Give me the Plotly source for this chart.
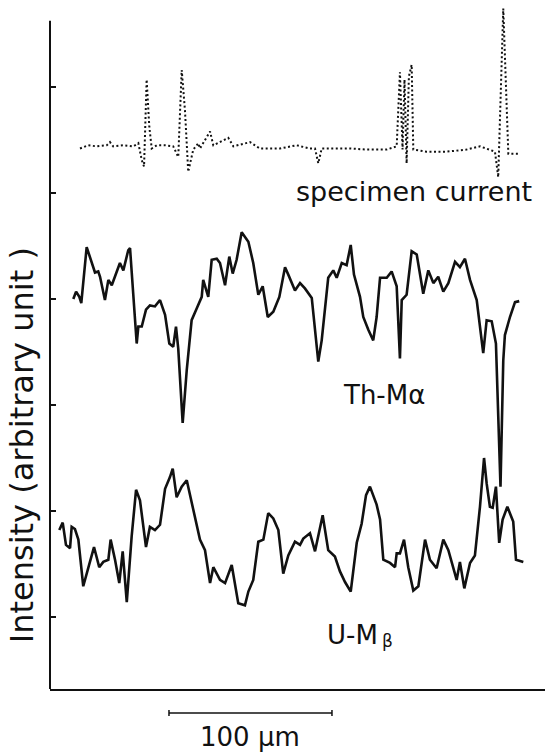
import plotly.graph_objects as go

# Line-scan profiles across the specimen (x: scan distance in µm, y: intensity, arbitrary units)

# Specimen current (dotted trace, top)
sc_x = [18.4, 23.5, 28.7, 34.8, 36.8, 38.8, 45.0, 51.1, 54.2, 56.3, 57.7, 59.3, 60.9, 62.4,
        65.5, 70.6, 75.6, 78.7, 80.8, 82.8, 84.8, 87.9, 91.0, 92.0, 98.2, 100.2, 109.4, 112.5,
        122.7, 128.8, 141.1, 151.3, 159.5, 162.6, 164.6, 166.7, 175.9, 184.0, 194.3, 206.6,
        212.7, 214.7, 216.3, 217.5, 218.8, 220.2, 221.9, 222.9, 231.1, 243.4, 255.6, 263.8,
        273.0, 275.0, 278.1, 280.2, 281.2, 287.3]
sc_y = [5.42, 5.45, 5.44, 5.45, 5.48, 5.44, 5.45, 5.44, 5.47, 5.31, 5.25, 6.07, 5.63, 5.42,
        5.45, 5.45, 5.44, 5.34, 6.16, 5.78, 5.20, 5.41, 5.47, 5.42, 5.58, 5.45, 5.52, 5.44,
        5.48, 5.42, 5.42, 5.45, 5.42, 5.42, 5.28, 5.42, 5.42, 5.42, 5.41, 5.41,
        5.44, 6.14, 5.41, 6.07, 5.28, 6.10, 6.21, 5.41, 5.39, 5.39, 5.41, 5.44,
        5.39, 5.15, 6.74, 5.88, 5.37, 5.37]

# Th-Mα intensity profile
th_x = [14.3, 16.0, 18.0, 19.2, 22.5, 24.5, 27.6, 29.6, 30.7, 33.7, 35.8, 37.9, 39.9, 42.9,
        45.0, 48.0, 49.1, 53.2, 54.2, 56.3, 58.9, 61.3, 64.4, 67.5, 70.6, 73.2, 75.6, 77.3,
        78.7, 81.4, 83.9, 86.9, 90.0, 93.1, 94.0, 97.1, 99.2, 102.3, 104.3, 107.4, 110.0,
        112.1, 114.5, 117.6, 121.7, 124.7, 127.8, 130.5, 133.6, 137.0, 140.7, 144.2, 146.2,
        150.3, 153.4, 156.4, 160.6, 164.6, 166.7, 170.7, 173.8, 175.9, 179.0, 182.0, 184.5,
        186.5, 190.2, 192.2, 195.3, 198.3, 200.4, 202.5, 206.6, 209.6, 212.7, 214.7, 215.8,
        218.8, 221.9, 225.0, 229.0, 232.1, 235.2, 238.2, 241.3, 244.4, 248.5, 251.5, 254.6,
        257.7, 261.8, 263.8, 265.8, 267.9, 271.0, 273.6, 275.0, 276.4, 278.1, 279.1, 282.2,
        285.3, 287.9]
th_y = [4.00, 4.07, 4.02, 3.96, 4.49, 4.39, 4.25, 4.26, 4.21, 3.99, 4.18, 4.13, 4.21, 4.34,
        4.27, 4.46, 4.48, 3.58, 3.74, 3.74, 3.90, 3.94, 3.93, 3.99, 3.85, 3.58, 3.55, 3.74,
        3.53, 2.83, 3.33, 3.80, 3.91, 4.02, 4.18, 4.02, 4.37, 4.38, 4.34, 4.13, 4.40,
        4.24, 4.37, 4.63, 4.54, 4.34, 4.04, 4.12, 3.83, 3.88, 4.02, 4.30, 4.23,
        4.08, 4.15, 4.10, 4.01, 3.41, 3.61, 4.20, 4.27, 4.20, 4.34, 4.32, 4.51,
        4.23, 4.02, 3.83, 3.71, 3.61, 3.83, 4.20, 4.20, 4.26, 4.12, 3.44, 3.99,
        4.04, 4.45, 4.42, 4.05, 4.27, 4.15, 4.21, 4.07, 4.15, 4.35, 4.30, 4.38,
        4.18, 3.99, 3.74, 3.49, 3.80, 3.79, 3.58, 2.98, 2.23, 3.42, 3.66, 3.83,
        3.97, 3.98]

# U-Mβ intensity profile
u_x = [5.7, 7.8, 9.8, 12.3, 13.3, 15.3, 17.4, 20.4, 24.5, 27.0, 30.2, 32.7, 35.8, 37.2,
       39.9, 42.5, 44.6, 47.1, 50.1, 52.8, 55.2, 58.9, 61.3, 64.4, 67.5, 70.6, 73.6, 75.3,
       77.7, 80.8, 83.9, 86.9, 92.0, 95.1, 98.2, 100.2, 104.3, 107.4, 111.5, 115.5, 119.6,
       121.7, 124.7, 127.8, 130.9, 133.9, 137.0, 140.1, 143.1, 146.2, 150.3, 153.4, 155.4,
       159.5, 162.6, 167.3, 170.7, 174.8, 177.9, 181.0, 184.5, 188.2, 191.2, 193.9, 196.3,
       200.4, 202.5, 204.5, 208.6, 211.7, 212.7, 214.7, 217.2, 219.8, 222.9, 226.0, 230.1,
       233.1, 237.2, 241.3, 244.4, 249.5, 251.5, 254.2, 257.7, 260.7, 263.8, 266.3, 267.9,
       269.9, 271.6, 273.6, 275.6, 277.7, 280.6, 284.2, 285.9, 290.4]
u_y = [1.82, 1.89, 1.68, 1.65, 1.85, 1.83, 1.73, 1.29, 1.52, 1.66, 1.47, 1.52, 1.54, 1.73,
       1.54, 1.32, 1.62, 1.14, 1.76, 2.20, 2.10, 1.66, 1.85, 1.82, 1.87, 2.21, 2.32, 2.40,
       2.13, 2.23, 2.29, 2.07, 1.73, 1.63, 1.32, 1.47, 1.35, 1.32, 1.49, 1.13, 1.11,
       1.24, 1.35, 1.71, 1.73, 1.98, 1.93, 1.82, 1.41, 1.58, 1.71, 1.68, 1.74,
       1.79, 1.62, 1.96, 1.63, 1.57, 1.43, 1.33, 1.24, 1.70, 1.88, 2.15, 2.23,
       2.06, 1.92, 1.54, 1.51, 1.47, 1.60, 1.60, 1.73, 1.47, 1.25, 1.29, 1.73,
       1.54, 1.46, 1.73, 1.63, 1.35, 1.52, 1.27, 1.51, 1.58, 2.04, 2.50, 2.26,
       2.04, 2.03, 2.23, 1.70, 1.92, 2.04, 1.90, 1.54, 1.52]

# Axis settings
x_range = [0, 303.7]
y_range = [0.3208, 6.7736]
y_axis_top = 6.625
y_tick_vals = [1, 2, 3, 4, 5, 6]

# Scale bar
scale_start_um = 73.0
scale_len_um = 100.0
scale_label = "100 μm"

# Trace labels: (text, x, y, font size)
labels = [
    ("specimen current", 223.3, 5.01, 27),
    ("Th-Mα", 204.9, 3.09, 26),
    ("U-M", 185.5, 0.83, 26),
    ("β", 207.0, 0.77, 17),
]
y_title = "Intensity (arbitrary unit )"

FONT = "DejaVu Sans"
INK = "#111111"

fig = go.Figure()

fig.add_trace(go.Scatter(
    x=sc_x, y=sc_y, mode="lines",
    line=dict(color=INK, width=2, dash="2px,2.5px"),
    hoverinfo="skip", showlegend=False,
))
fig.add_trace(go.Scatter(
    x=th_x, y=th_y, mode="lines",
    line=dict(color=INK, width=2.6),
    hoverinfo="skip", showlegend=False,
))
fig.add_trace(go.Scatter(
    x=u_x, y=u_y, mode="lines",
    line=dict(color=INK, width=2.6),
    hoverinfo="skip", showlegend=False,
))

# Left axis line (stops below the top of the plotting area)
fig.add_shape(type="line", xref="paper", yref="y",
              x0=0, x1=0, y0=y_range[0], y1=y_axis_top,
              line=dict(color=INK, width=2))

# Scale bar with end caps
bar_y = -0.0351
cap = 0.0044
scale_end_um = scale_start_um + scale_len_um
fig.add_shape(type="line", xref="x", yref="paper",
              x0=scale_start_um, x1=scale_end_um, y0=bar_y, y1=bar_y,
              line=dict(color=INK, width=1.5))
for xe in (scale_start_um, scale_end_um):
    fig.add_shape(type="line", xref="x", yref="paper",
                  x0=xe, x1=xe, y0=bar_y - cap, y1=bar_y + cap,
                  line=dict(color=INK, width=1.5))
fig.add_annotation(x=(scale_start_um + scale_end_um) / 2, y=-0.0702,
                   xref="x", yref="paper", text=scale_label, showarrow=False,
                   xanchor="center", yanchor="middle",
                   font=dict(family=FONT, size=26, color=INK))

for text, lx, ly, size in labels:
    fig.add_annotation(x=lx, y=ly, xref="x", yref="y", text=text, showarrow=False,
                       xanchor="center", yanchor="middle",
                       font=dict(family=FONT, size=size, color=INK))

fig.add_annotation(x=-0.0566, y=2.62, xref="paper", yref="y", text=y_title,
                   showarrow=False, textangle=-90, xanchor="center", yanchor="middle",
                   font=dict(family=FONT, size=32, color=INK))

fig.update_xaxes(range=x_range, showline=True, linecolor=INK, linewidth=2,
                 showgrid=False, zeroline=False, ticks="", showticklabels=False)
fig.update_yaxes(range=y_range, showline=False, showgrid=False, zeroline=False,
                 tickvals=y_tick_vals, ticks="inside", ticklen=6, tickwidth=1.5,
                 tickcolor=INK, showticklabels=False)

fig.update_layout(
    width=545, height=752,
    margin=dict(l=50, r=0, t=5, b=63),
    paper_bgcolor="white", plot_bgcolor="white",
    showlegend=False,
)

fig.write_html("out.html")
